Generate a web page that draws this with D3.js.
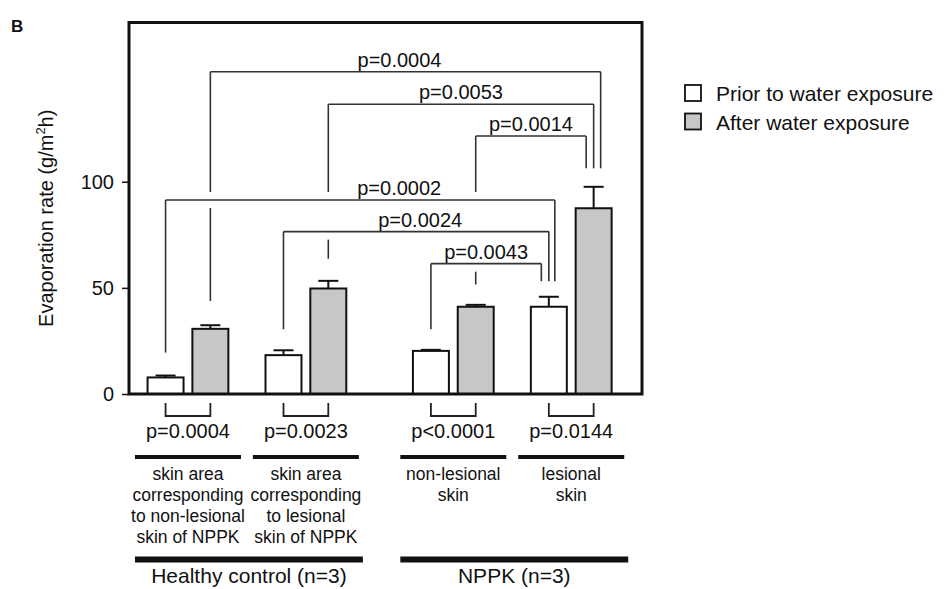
<!DOCTYPE html>
<html><head><meta charset="utf-8">
<script src="https://cdn.jsdelivr.net/npm/d3@7"></script>
<style>
body{margin:0;background:#fff;}
svg{display:block;font-family:Arial,"Liberation Sans",sans-serif;}
</style></head>
<body><svg id="c" width="945" height="589"></svg>
<script>
// ---------------- data ----------------
const groupLabelLines = [
  ["skin area","corresponding","to non-lesional","skin of NPPK"],
  ["skin area","corresponding","to lesional","skin of NPPK"],
  ["non-lesional","skin"],
  ["lesional","skin"]
];
const groupSuper = [0,0,1,1];
const superLabels = ["Healthy control (n=3)","NPPK (n=3)"];
const seriesNames = ["Prior to water exposure","After water exposure"];
const priorMean = [7.8, 18.3, 20.3, 41.1];
const priorErr  = [0.9, 2.3, 0.5, 4.7];
const afterMean = [30.7, 49.7, 41.1, 87.5];
const afterErr  = [1.7, 3.6, 0.9, 10.1];
const pairP = ["p=0.0004","p=0.0023","p<0.0001","p=0.0144"];
const yTicks = [0,50,100];
// comparison brackets (bar index = group*2 + series)
const bracketLabels  = ["p=0.0004","p=0.0053","p=0.0014","p=0.0002","p=0.0024","p=0.0043"];
const bracketFrom    = [1,3,5,0,2,4];
const bracketTo      = [7,7,7,6,6,6];
const bracketLevel   = [151.8,136.5,121.5,91.4,76.5,61.4];
const bracketFromEnd = [43.8,63.7,51.6,19.5,30.5,30.5];
const bracketToEnd   = [106.3,106.3,106.3,53.1,53.1,53.1];
// layout tweaks (pixels)
const toLegOffset = [7,0,-7.5,6,0,-7.5];
const labelShift  = [-6,0,0,39,4,0];

// ---------------- chart ----------------
const svg = d3.select("#c");
const frame = {left:129, right:642, top:22.5, bottom:394};
const groupPos = groupSuper.map((s,i)=> i + 0.25*s);
const x = d3.scaleLinear().domain([-0.5, 3.85]).range([frame.left, frame.right]);
const y = d3.scaleLinear().domain([0,175]).range([frame.bottom, frame.top]);
const unit = x(1)-x(0);
const barOff = 0.19*unit, barW = 0.305*unit;

const bars = [];
groupPos.forEach((p,g)=>{
  bars.push({g, s:0, cx:x(p)-barOff, v:priorMean[g], e:priorErr[g]});
  bars.push({g, s:1, cx:x(p)+barOff, v:afterMean[g], e:afterErr[g]});
});
const fills = ["#ffffff","#c7c7c7"];

// bracket labels first (for gap measurement)
const gLab = svg.append("g");
const bk = bracketLabels.map((lab,i)=>{
  const x1 = bars[bracketFrom[i]].cx, x2 = bars[bracketTo[i]].cx + toLegOffset[i];
  const yl = y(bracketLevel[i]);
  const t = gLab.append("text").attr("x",(x1+x2)/2 + labelShift[i]).attr("y", yl-5)
    .attr("text-anchor","middle").attr("font-size",20).attr("fill","#111").text(lab);
  const bb = t.node().getBBox();
  return {x1,x2,yl,y1:y(bracketFromEnd[i]),y2:y(bracketToEnd[i]),bb};
});

// legs with gaps where other lines / labels cross
const gBr = svg.append("g").attr("stroke","#333").attr("stroke-width",1.6).attr("fill","none");
function drawLeg(lx, yTop, yBot, self){
  let gaps = [];
  bk.forEach((o,j)=>{
    if(j===self) return;
    if(lx>o.x1+1 && lx<o.x2-1 && o.yl>yTop && o.yl<yBot) gaps.push([o.yl-8,o.yl+8]);
    if(lx>o.bb.x-2 && lx<o.bb.x+o.bb.width+2) gaps.push([o.bb.y+2,o.bb.y+o.bb.height+1]);
  });
  gaps.sort((a,b)=>a[0]-b[0]);
  const merged=[];
  gaps.forEach(gp=>{
    if(merged.length && gp[0]-merged[merged.length-1][1] < 20) merged[merged.length-1][1]=Math.max(merged[merged.length-1][1],gp[1]);
    else merged.push(gp.slice());
  });
  let cur = yTop;
  merged.forEach(gp=>{
    if(gp[1]<=yTop || gp[0]>=yBot) return;
    if(gp[0]>cur) gBr.append("line").attr("x1",lx).attr("x2",lx).attr("y1",cur).attr("y2",gp[0]);
    cur = Math.max(cur,gp[1]);
  });
  if(cur<yBot) gBr.append("line").attr("x1",lx).attr("x2",lx).attr("y1",cur).attr("y2",yBot);
}
bk.forEach((b,i)=>{
  gBr.append("line").attr("x1",b.x1).attr("x2",b.x2).attr("y1",b.yl).attr("y2",b.yl);
  drawLeg(b.x1,b.yl,b.y1,i);
  drawLeg(b.x2,b.yl,b.y2,i);
});

// bars
const gBars = svg.append("g");
gBars.selectAll("rect").data(bars).join("rect")
  .attr("x",d=>d.cx-barW/2).attr("width",barW)
  .attr("y",d=>y(d.v)).attr("height",d=>y(0)-y(d.v))
  .attr("fill",d=>fills[d.s]).attr("stroke","#111").attr("stroke-width",2);
// error bars
const gErr = svg.append("g").attr("stroke","#111").attr("stroke-width",2);
bars.forEach(d=>{
  gErr.append("line").attr("x1",d.cx).attr("x2",d.cx).attr("y1",y(d.v)).attr("y2",y(d.v+d.e));
  gErr.append("line").attr("x1",d.cx-10).attr("x2",d.cx+10).attr("y1",y(d.v+d.e)).attr("y2",y(d.v+d.e));
});

// frame
svg.append("rect").attr("x",frame.left).attr("y",frame.top)
  .attr("width",frame.right-frame.left).attr("height",frame.bottom-frame.top)
  .attr("fill","none").attr("stroke","#111").attr("stroke-width",3);

// y axis
const ya = svg.append("g").attr("transform",`translate(${frame.left},0)`)
  .call(d3.axisLeft(y).tickValues(yTicks).tickSize(7).tickSizeOuter(0).tickPadding(8));
ya.select(".domain").remove();
ya.selectAll("line").attr("stroke","#111").attr("stroke-width",1.5);
ya.selectAll("text").attr("font-size",20).attr("font-family","Arial, Liberation Sans, sans-serif").attr("fill","#111");

// y title
const yt = svg.append("text").attr("transform",`translate(53,${(y(0)+y(175))/2 + 10}) rotate(-90)`)
  .attr("text-anchor","middle").attr("font-size",20).attr("fill","#111");
yt.append("tspan").text("Evaporation rate (g/m");
yt.append("tspan").attr("font-size",13).attr("dy",-8).text("2");
yt.append("tspan").attr("dy",8).text("h)");

// bottom pair brackets + p values
const gBot = svg.append("g");
groupPos.forEach((p,g)=>{
  const a = x(p)-barOff, b = x(p)+barOff;
  gBot.append("path").attr("d",`M${a},403V416H${b}V403`).attr("fill","none")
    .attr("stroke","#222").attr("stroke-width",1.8);
  gBot.append("text").attr("x",x(p)).attr("y",438).attr("text-anchor","middle")
    .attr("font-size",20).attr("fill","#111").text(pairP[g]);
  gBot.append("line").attr("x1",x(p)-53).attr("x2",x(p)+53).attr("y1",457).attr("y2",457)
    .attr("stroke","#111").attr("stroke-width",4);
  const t = gBot.append("text").attr("text-anchor","middle").attr("font-size",17.5).attr("fill","#111");
  groupLabelLines[g].forEach((ln,k)=>{
    t.append("tspan").attr("x",x(p)).attr("y",480+21*k).text(ln);
  });
});
superLabels.forEach((lab,s)=>{
  const ps = groupPos.filter((p,i)=>groupSuper[i]===s);
  const a = x(d3.min(ps))-53, b = x(d3.max(ps))+57;
  gBot.append("line").attr("x1",a).attr("x2",b).attr("y1",559.5).attr("y2",559.5)
    .attr("stroke","#111").attr("stroke-width",6);
  gBot.append("text").attr("x",(a+b)/2).attr("y",583).attr("text-anchor","middle")
    .attr("font-size",21).attr("fill","#111").text(lab);
});

// legend
const lg = svg.append("g").attr("transform","translate(685,85)");
seriesNames.forEach((n,i)=>{
  lg.append("rect").attr("x",0).attr("y",i*28.5).attr("width",16).attr("height",16)
    .attr("fill",fills[i]).attr("stroke","#111").attr("stroke-width",1.8);
  lg.append("text").attr("x",31).attr("y",i*28.5+16).attr("font-size",21).attr("fill","#111").text(n);
});

// panel letter
svg.append("text").attr("x",11).attr("y",32).attr("font-size",17).attr("font-weight","bold").attr("fill","#111").text("B");
</script></body></html>
